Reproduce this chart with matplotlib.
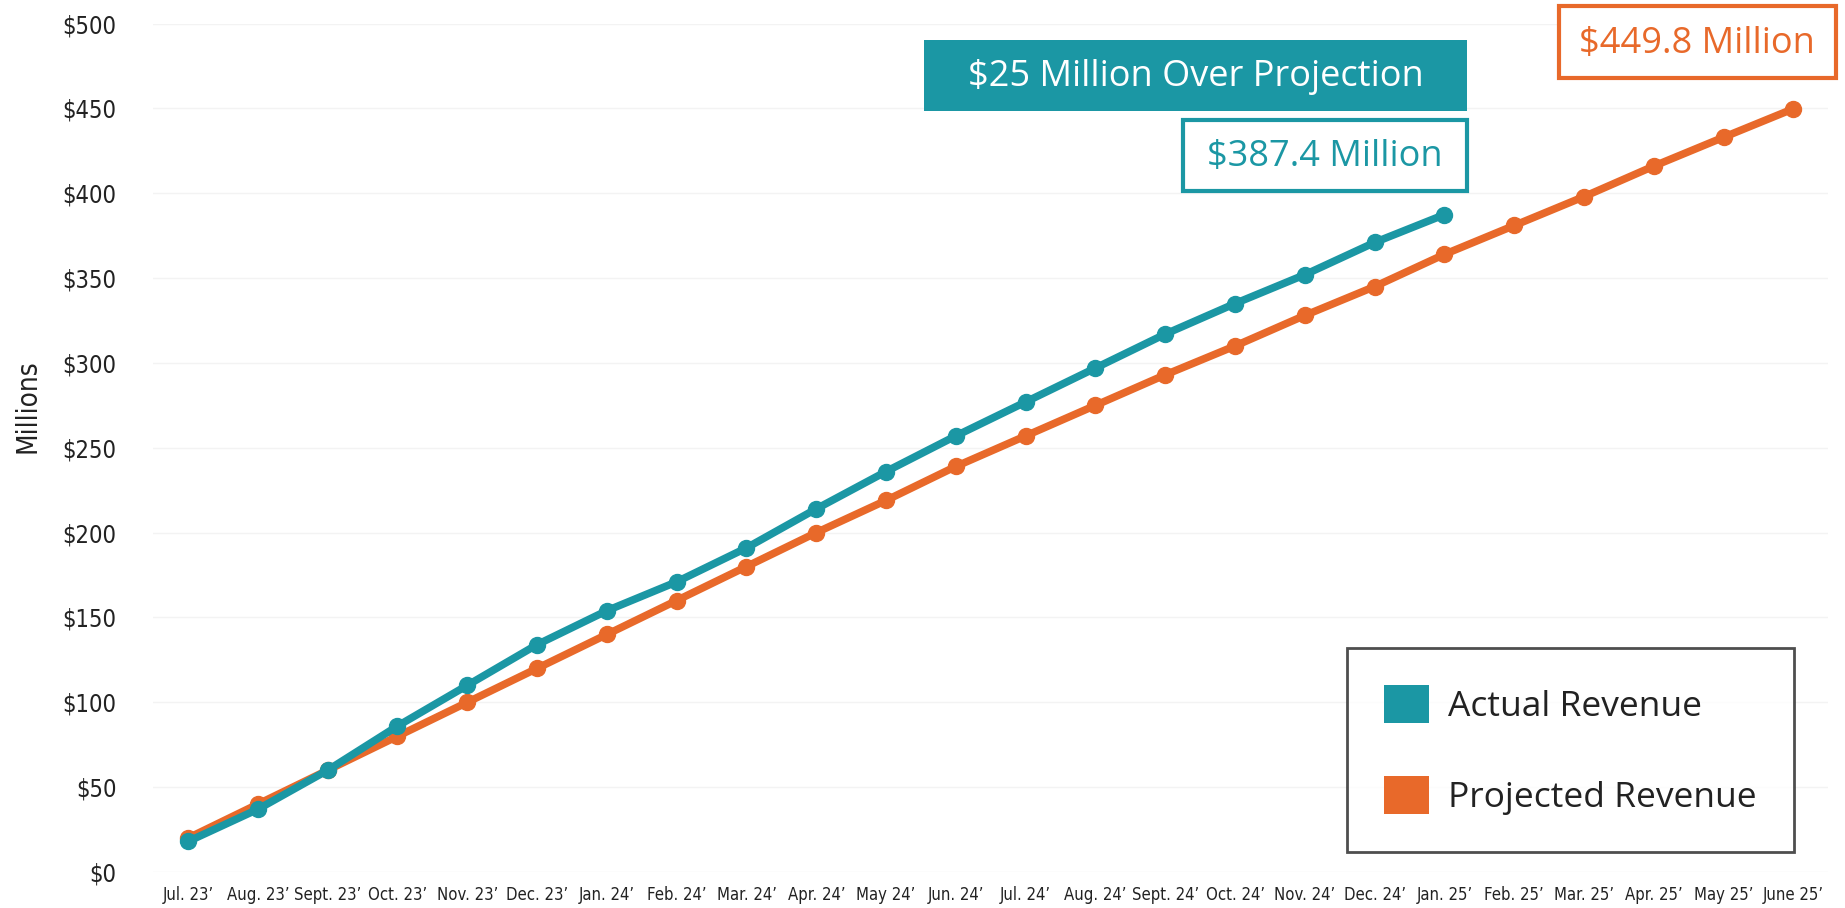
import matplotlib
matplotlib.use("Agg")
import matplotlib.pyplot as plt
from matplotlib.patches import Rectangle, Patch

months = ["Jul. 23\u2019", "Aug. 23\u2019", "Sept. 23\u2019", "Oct. 23\u2019", "Nov. 23\u2019",
          "Dec. 23\u2019", "Jan. 24\u2019", "Feb. 24\u2019", "Mar. 24\u2019", "Apr. 24\u2019",
          "May 24\u2019", "Jun. 24\u2019", "Jul. 24\u2019", "Aug. 24\u2019", "Sept. 24\u2019",
          "Oct. 24\u2019", "Nov. 24\u2019", "Dec. 24\u2019", "Jan. 25\u2019", "Feb. 25\u2019",
          "Mar. 25\u2019", "Apr. 25\u2019", "May 25\u2019", "June 25\u2019"]

actual = [18, 37, 60, 86, 110, 134, 154, 171, 191, 214, 236, 257,
          277, 297, 317, 335, 352, 371, 387.4]
projected = [20, 40, 60, 80, 100, 120, 140, 160, 180, 200, 219, 239,
             257, 275, 293, 310, 328, 345, 364, 381, 398, 416, 433, 449.8]

yticks = [0, 50, 100, 150, 200, 250, 300, 350, 400, 450, 500]

TEAL = "#1b97a4"
ORANGE = "#e8692a"

fig = plt.figure(figsize=(18.45, 9.08), dpi=100)
ax = fig.add_axes([0.083, 0.0396, 0.908, 0.9345])

x_act = list(range(len(actual)))
x_proj = list(range(len(projected)))
ax.plot(x_proj, projected, color=ORANGE, lw=5.5, marker="o", ms=11.5, zorder=3)
ax.plot(x_act, actual, color=TEAL, lw=5.5, marker="o", ms=11.5, zorder=4)

ax.set_xlim(-0.5, len(months) - 0.5)
ax.set_ylim(0, 500)
ax.set_xticks(range(len(months)))
ax.set_xticklabels(months, fontsize=12, family="DejaVu Sans", fontstretch="condensed",
                   color="#222222")
ax.set_yticks(yticks)
ax.set_yticklabels([f"${v}" for v in yticks], fontsize=17, family="DejaVu Sans",
                   fontstretch="condensed", color="#222222")
ax.tick_params(length=0)
ax.tick_params(axis="y", pad=26.5)
ax.tick_params(axis="x", pad=10)
for s in ax.spines.values():
    s.set_visible(False)
ax.grid(axis="y", color="#f3f3f3", lw=1)
ax.set_axisbelow(True)

fig.text(0.015, 0.553, "Millions", rotation=90, fontsize=20, family="DejaVu Sans",
         fontstretch="condensed", ha="center", va="center", color="#222222")

# callout boxes
fig.patches.append(Rectangle((0.5008, 0.878), 0.2942, 0.078, transform=fig.transFigure,
                             facecolor=TEAL, edgecolor="none"))
fig.text(0.648, 0.915, "$25 Million Over Projection", color="white", fontsize=26,
         family="Open Sans", ha="center", va="center")

fig.patches.append(Rectangle((0.6412, 0.790), 0.1538, 0.078, transform=fig.transFigure,
                             facecolor="white", edgecolor=TEAL, lw=3))
fig.text(0.718, 0.827, "$387.4 Million", color=TEAL, fontsize=26,
         family="Open Sans", ha="center", va="center")

fig.patches.append(Rectangle((0.845, 0.914), 0.150, 0.079, transform=fig.transFigure,
                             facecolor="white", edgecolor=ORANGE, lw=3))
fig.text(0.920, 0.951, "$449.8 Million", color=ORANGE, fontsize=26,
         family="Open Sans", ha="center", va="center")

handles = [Patch(facecolor=TEAL, label="Actual Revenue"),
           Patch(facecolor=ORANGE, label="Projected Revenue")]
leg = fig.legend(handles=handles, loc="lower left", bbox_to_anchor=(0.730, 0.062),
                 fontsize=25.5, frameon=True, fancybox=False, edgecolor="#222222",
                 handlelength=1.27, handleheight=1.27, labelspacing=1.45,
                 borderpad=1.05, handletextpad=0.55, borderaxespad=0)
leg.get_frame().set_linewidth(2)
for t in leg.get_texts():
    t.set_family("Open Sans")
    t.set_color("#222222")

fig.savefig("out.png", dpi=100, facecolor="white")
